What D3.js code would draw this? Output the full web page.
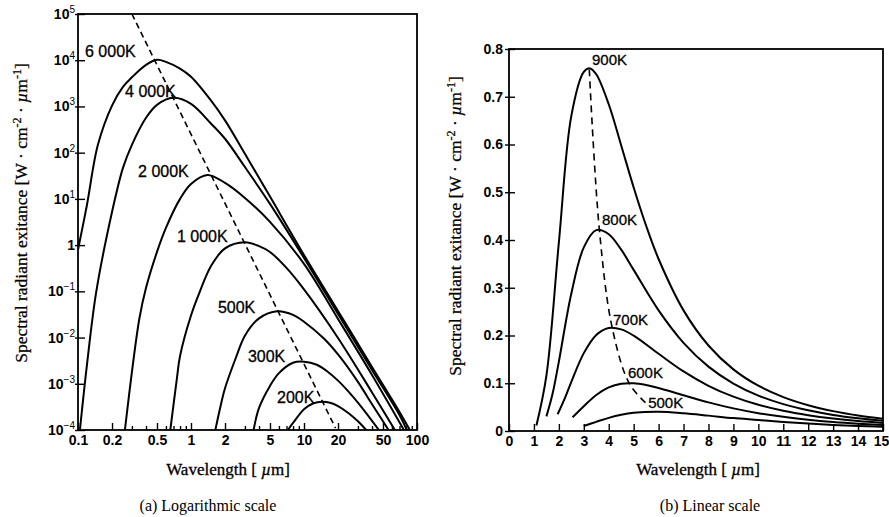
<!DOCTYPE html>
<html><head><meta charset="utf-8">
<script src="https://cdn.jsdelivr.net/npm/d3@7"></script>
<style>
body{margin:0;background:#fff}
svg{display:block}
</style></head><body>
<svg id="c" width="889" height="517"></svg>
<script>
// ---------- (a) Logarithmic scale data ----------
const logLabels = ["6 000K","4 000K","2 000K","1 000K","500K","300K","200K"];
const lam6000 = [0.1,0.12,0.15,0.2,0.25,0.3,0.4,0.5,0.6,0.8,1,1.5,2,3,5,10,20,40,70,86.5];
const val6000 = [0.79,7.4,148,1045,2655,4270,7940,10200,9230,6580,4375,1349,500,95,11.2,0.614,0.0377,0.00231,2.46e-4,1e-4];
const lam4000 = [0.104,0.12,0.145,0.2,0.25,0.3,0.4,0.5,0.7,1,1.5,2,3,5,10,20,40,70,81.3];
const val4000 = [1e-4,2.55e-3,0.097,5.2,46.9,148,569,1083,1535,1138,429,200,49,7.8,0.528,0.0324,0.00199,2.1e-4,1e-4];
const lam2000 = [0.26,0.3,0.35,0.4,0.5,0.6,0.8,1,1.4,2,3,5,10,20,40,76.6];
const val2000 = [1e-4,1.8e-3,0.0265,0.119,0.713,2.36,10,21.1,33,22.2,10.5,3.18,0.392,0.0253,1.55e-3,1e-4];
const lam1000 = [0.656,0.75,0.8,1,1.2,1.5,2,3,4,5,7,10,20,40,63.7];
const val1000 = [1e-4,1.3e-3,4e-3,0.03,0.1,0.35,0.85,1.15,0.95,0.71,0.321,0.11,0.0098,6.5e-4,1e-4];
const lam500 = [1.643,1.8,2,2.5,3,4,5.8,8,10,15,20,30,40,50,56];
const val500 = [1e-4,2.8e-4,8e-4,3.7e-3,0.011,0.026,0.037,0.031,0.022,0.0095,4.3e-3,1.1e-3,3.6e-4,1.54e-4,1e-4];
const lam300 = [3.58,4,5,6,8,10,13,16,20,25,30,40,46];
const val300 = [1e-4,3e-4,9e-4,1.7e-3,2.85e-3,3.0e-3,2.58e-3,1.87e-3,1.17e-3,6.6e-4,3.9e-4,1.58e-4,1e-4];
const lam200 = [7.2,8,10,12,14.5,17,20,25,30,35.5];
const val200 = [1e-4,1.42e-4,2.81e-4,3.75e-4,4.1e-4,3.89e-4,3.3e-4,2.28e-4,1.54e-4,1e-4];
const wienLogLam = [0.3,19];
const wienLogVal = [1e5,1.1e-4];
const logXTicksLabeled = [0.1,0.2,0.5,1,2,5,10,20,50,100];
const logYTicks = [1e-4,1e-3,1e-2,1e-1,1,1e1,1e2,1e3,1e4,1e5];
const logYExp = ["−4","−3","−2","−1","0","1","2","3","4","5"];

// ---------- (b) Linear scale data ----------
const linLabels = ["900K","800K","700K","600K","500K"];
const lam900 = [1.1,1.5,2,2.5,3,3.25,3.5,4,4.5,5,5.5,6,7,8,9,10,11,12,13,14,15];
const val900 = [0.0113,0.1158,0.3948,0.66,0.752,0.7594,0.7472,0.6843,0.598,0.510,0.4298,0.3602,0.2526,0.1791,0.1291,0.0948,0.0709,0.0539,0.0416,0.0326,0.0259];
const lam800 = [1.5,1.75,2,2.5,3,3.5,4,4.5,5,6,7,8,9,10,11,12,13,14,15];
const val800 = [0.0306,0.0785,0.1454,0.288,0.3845,0.4206,0.4121,0.3797,0.3374,0.2527,0.1847,0.1348,0.0994,0.0742,0.0563,0.0433,0.0337,0.0266,0.0213];
const lam700 = [1.95,2.25,2.5,3,3.5,4,4.5,5,6,7,8,9,10,11,12,13,14,15];
const val700 = [0.035,0.070,0.103,0.1631,0.2011,0.2157,0.2128,0.1996,0.1617,0.1247,0.0947,0.0719,0.0549,0.0424,0.0331,0.0261,0.0208,0.0168];
const lam600 = [2.55,3,3.5,4,4.5,5,5.5,6,7,8,9,10,11,12,13,14,15];
const val600 = [0.0287,0.052,0.0755,0.0912,0.0988,0.0998,0.0962,0.0901,0.0748,0.06,0.0474,0.0374,0.0296,0.0236,0.0189,0.0153,0.0125];
const lam500b = [3,3.5,4,4.5,5,6,7,8,9,10,11,12,13,14,15];
const val500b = [0.0105,0.0192,0.0275,0.0339,0.038,0.0401,0.0371,0.0322,0.027,0.023,0.0188,0.0155,0.0128,0.0106,0.009];
const wienLinLam = [3.22,3.62,4.14,4.83,5.5];
const wienLinVal = [0.757,0.424,0.216,0.099,0.058];
const linXTicks = d3.range(0,16);
const linYTicks = [0,0.1,0.2,0.3,0.4,0.5,0.6,0.7,0.8];

// ---------- drawing ----------
const svg = d3.select("#c");
const SANS = '"Liberation Sans", Arial, sans-serif';
const SERIF = '"Liberation Serif", "Times New Roman", serif';
const ink = "#000";

// ---- chart (a)
const xA = d3.scaleLog().domain([0.1,100]).range([78,417]);
const yA = d3.scaleLog().domain([1e-4,1e5]).range([430,14]);
svg.append("clipPath").attr("id","clipA").append("rect")
  .attr("x",xA(0.1)).attr("y",yA(1e5)).attr("width",xA(100)-xA(0.1)).attr("height",yA(1e-4)-yA(1e5));
const gA = svg.append("g");
const lineA = d3.line().x(d=>xA(d[0])).y(d=>yA(d[1])).curve(d3.curveCatmullRom.alpha(0.5));
const seriesA = [[lam6000,val6000],[lam4000,val4000],[lam2000,val2000],[lam1000,val1000],[lam500,val500],[lam300,val300],[lam200,val200]];
const plotA = gA.append("g").attr("clip-path","url(#clipA)");
seriesA.forEach(([l,v])=>{
  plotA.append("path").datum(d3.zip(l,v)).attr("d",lineA)
    .attr("fill","none").attr("stroke",ink).attr("stroke-width",2);
});
plotA.append("path").datum(d3.zip(wienLogLam,wienLogVal))
  .attr("d",d3.line().x(d=>xA(d[0])).y(d=>yA(d[1])))
  .attr("fill","none").attr("stroke",ink).attr("stroke-width",1.6).attr("stroke-dasharray","6,4");
gA.append("rect").attr("x",xA(0.1)).attr("y",yA(1e5)).attr("width",xA(100)-xA(0.1)).attr("height",yA(1e-4)-yA(1e5))
  .attr("fill","none").attr("stroke",ink).attr("stroke-width",1.8);
const minorA = [];
[0.1,1,10].forEach(dec=>{ for(let k=1;k<10;k++){ const t=+(k*dec).toPrecision(3); if(!logXTicksLabeled.includes(t)) minorA.push(t);} });
gA.append("g").attr("transform",`translate(0,${yA(1e-4)})`)
  .call(d3.axisBottom(xA).tickValues(minorA).tickSize(-4).tickFormat(""))
  .call(g=>{g.select(".domain").remove(); g.selectAll("line").attr("stroke-width",1.4);});
gA.append("g").attr("transform",`translate(0,${yA(1e-4)})`)
  .call(d3.axisBottom(xA).tickValues(logXTicksLabeled).tickSize(-7).tickPadding(5).tickFormat(d=>String(d)))
  .call(g=>{g.select(".domain").remove(); g.selectAll("line").attr("stroke-width",1.4);
    g.selectAll("text").attr("font-family",SANS).attr("font-size",14).attr("font-weight","bold").attr("fill",ink);});
gA.append("g").attr("transform",`translate(${xA(0.1)},0)`)
  .call(d3.axisLeft(yA).tickValues(logYTicks).tickSize(-7).tickFormat(""))
  .call(g=>{g.select(".domain").remove(); g.selectAll("line").attr("stroke-width",1.4).attr("x1",-3);});
logYTicks.forEach((t,i)=>{
  const tx = gA.append("text").attr("x",xA(0.1)-3).attr("y",yA(t)+5).attr("text-anchor","end")
    .attr("font-family",SANS).attr("font-size",14).attr("font-weight","bold").attr("fill",ink);
  if(logYExp[i]==="0"){ tx.text("1"); }
  else { tx.append("tspan").text("10");
    tx.append("tspan").attr("dy",-6).attr("font-size",10).attr("font-weight","normal").text(logYExp[i]); }
});
const labelPosA = [[0.1153,1.17e4],[0.261,1600],[0.340,29.8],[0.751,1.17],[1.73,0.034],[3.19,2.96e-3],[5.77,3.84e-4]];
logLabels.forEach((s,i)=>{
  gA.append("text").attr("x",xA(labelPosA[i][0])).attr("y",yA(labelPosA[i][1]))
    .attr("font-family",SANS).attr("font-size",16).attr("fill",ink)
    .attr("stroke",ink).attr("stroke-width",0.3).text(s);
});
function xTitle(g,cx){
  g.append("text").attr("x",cx).attr("y",475).attr("text-anchor","middle")
    .attr("font-family",SERIF).attr("font-size",17).attr("fill",ink).attr("stroke",ink).attr("stroke-width",0.3)
    .call(t=>{t.append("tspan").text("Wavelength [ ");t.append("tspan").attr("font-style","italic").text("µ");t.append("tspan").text("m]");});
}
function yTitle(g,cx,cy){
  const t=g.append("text").attr("transform",`translate(${cx},${cy}) rotate(-90)`).attr("text-anchor","middle")
    .attr("font-family",SERIF).attr("font-size",17.5).attr("fill",ink).attr("stroke",ink).attr("stroke-width",0.25);
  t.append("tspan").text("Spectral radiant exitance [W · cm");
  t.append("tspan").attr("dy",-6).attr("font-size",12).text("-2");
  t.append("tspan").attr("dy",6).text(" · ");
  t.append("tspan").attr("font-style","italic").text("µ");
  t.append("tspan").text("m");
  t.append("tspan").attr("dy",-6).attr("font-size",12).text("-1");
  t.append("tspan").attr("dy",6).text("]");
}
xTitle(gA,228);
yTitle(gA,27,213);
gA.append("text").attr("x",208).attr("y",511).attr("text-anchor","middle")
  .attr("font-family",SERIF).attr("font-size",16).attr("fill",ink).text("(a) Logarithmic scale");

// ---- chart (b)
const xB = d3.scaleLinear().domain([0,15]).range([509,883]);
const yB = d3.scaleLinear().domain([0,0.8]).range([431,49]);
svg.append("clipPath").attr("id","clipB").append("rect")
  .attr("x",xB(0)).attr("y",yB(0.8)).attr("width",xB(15)-xB(0)).attr("height",yB(0)-yB(0.8));
const gB = svg.append("g");
const plotB = gB.append("g").attr("clip-path","url(#clipB)");
const lineB = d3.line().x(d=>xB(d[0])).y(d=>yB(d[1])).curve(d3.curveCatmullRom.alpha(0.5));
[[lam900,val900],[lam800,val800],[lam700,val700],[lam600,val600],[lam500b,val500b]].forEach(([l,v])=>{
  plotB.append("path").datum(d3.zip(l,v)).attr("d",lineB)
    .attr("fill","none").attr("stroke",ink).attr("stroke-width",2);
});
plotB.append("path").datum(d3.zip(wienLinLam,wienLinVal))
  .attr("d",d3.line().x(d=>xB(d[0])).y(d=>yB(d[1])).curve(d3.curveCatmullRom.alpha(0.5)))
  .attr("fill","none").attr("stroke",ink).attr("stroke-width",1.6).attr("stroke-dasharray","7,5");
gB.append("rect").attr("x",xB(0)).attr("y",yB(0.8)).attr("width",xB(15)-xB(0)).attr("height",yB(0)-yB(0.8))
  .attr("fill","none").attr("stroke",ink).attr("stroke-width",1.8);
gB.append("g").attr("transform",`translate(0,${yB(0)})`)
  .call(d3.axisBottom(xB).tickValues(linXTicks).tickSize(-7).tickPadding(5).tickFormat(d=>String(d)))
  .call(g=>{g.select(".domain").remove(); g.selectAll("line").attr("stroke-width",1.4);
    g.selectAll("text").attr("font-family",SANS).attr("font-size",14).attr("font-weight","bold").attr("fill",ink)
     .attr("dx",d=>d===15?-2:0);});
gB.append("g").attr("transform",`translate(${xB(0)},0)`)
  .call(d3.axisLeft(yB).tickValues(linYTicks).tickSize(-6).tickPadding(6).tickFormat(d=>d===0?"0":d3.format(".1f")(d)))
  .call(g=>{g.select(".domain").remove(); g.selectAll("line").attr("stroke-width",1.4).attr("x1",-4);
    g.selectAll("text").attr("font-family",SANS).attr("font-size",14).attr("font-weight","bold").attr("fill",ink);});
const labelPosB = [[3.33,0.766],[3.73,0.431],[4.17,0.222],[4.77,0.111],[5.58,0.048]];
linLabels.forEach((s,i)=>{
  gB.append("text").attr("x",xB(labelPosB[i][0])).attr("y",yB(labelPosB[i][1]))
    .attr("font-family",SANS).attr("font-size",15).attr("fill",ink)
    .attr("stroke",ink).attr("stroke-width",0.3).text(s);
});
xTitle(gB,698);
yTitle(gB,461,226);
gB.append("text").attr("x",710).attr("y",511).attr("text-anchor","middle")
  .attr("font-family",SERIF).attr("font-size",16).attr("fill",ink).text("(b) Linear scale");
</script>
</body></html>
